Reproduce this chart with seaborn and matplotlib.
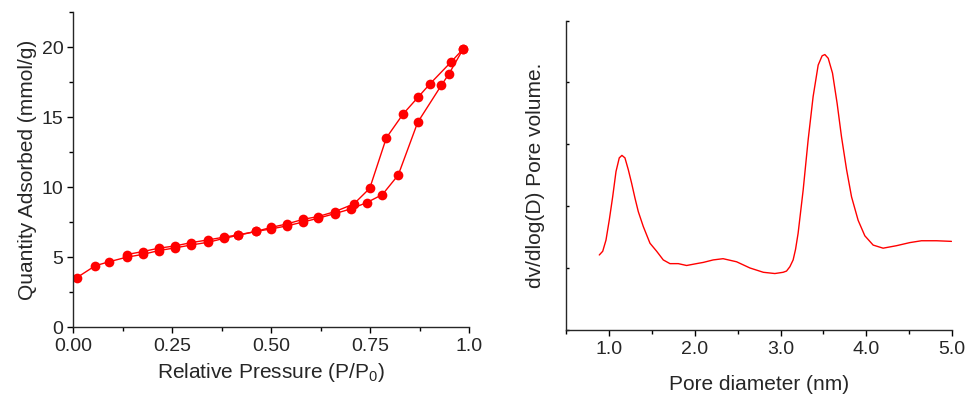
import numpy as np
import pandas as pd
import matplotlib.pyplot as plt
import seaborn as sns

sns.set_style("ticks")
plt.rcParams['font.family'] = ['Liberation Sans', 'DejaVu Sans']

# N2 isotherm, adsorption branch
ads_p = [0.010, 0.056, 0.090, 0.135, 0.177, 0.217, 0.258, 0.299, 0.341, 0.380,
         0.417, 0.461, 0.501, 0.540, 0.581, 0.619, 0.661, 0.701, 0.741, 0.781,
         0.821, 0.870, 0.930, 0.949, 0.985]
ads_q = [3.54, 4.38, 4.66, 4.99, 5.20, 5.47, 5.66, 5.87, 6.06, 6.33,
         6.56, 6.83, 7.02, 7.23, 7.51, 7.78, 8.11, 8.44, 8.89, 9.47,
         10.87, 14.63, 17.29, 18.10, 19.88]
# desorption branch
des_p = [0.985, 0.953, 0.901, 0.871, 0.833, 0.791, 0.749, 0.709, 0.661, 0.619,
         0.581, 0.540, 0.501, 0.461, 0.417, 0.380, 0.341, 0.299, 0.258, 0.217,
         0.177, 0.135]
des_q = [19.88, 18.91, 17.38, 16.43, 15.22, 13.53, 9.92, 8.80, 8.25, 7.90,
         7.70, 7.37, 7.13, 6.83, 6.59, 6.42, 6.23, 6.04, 5.80, 5.64,
         5.40, 5.18]

# pore size distribution
pore_d = [0.887, 0.927, 0.965, 1.004, 1.043, 1.082, 1.12, 1.151, 1.186, 1.225,
          1.264, 1.303, 1.342, 1.40, 1.478, 1.556, 1.633, 1.711, 1.808, 1.905,
          2.02, 2.10, 2.215, 2.33, 2.488, 2.643, 2.80, 2.934, 3.03, 3.07,
          3.109, 3.147, 3.175, 3.205, 3.264, 3.322, 3.38, 3.439, 3.485, 3.517,
          3.556, 3.606, 3.66, 3.711, 3.77, 3.828, 3.905, 3.983, 4.08, 4.196,
          4.352, 4.507, 4.643, 4.818, 4.993]
pore_v = [1.21, 1.27, 1.45, 1.78, 2.15, 2.56, 2.78, 2.82, 2.78, 2.59,
          2.37, 2.13, 1.91, 1.67, 1.40, 1.27, 1.13, 1.07, 1.07, 1.04,
          1.07, 1.09, 1.13, 1.15, 1.10, 1.00, 0.93, 0.91, 0.93, 0.95,
          1.02, 1.13, 1.30, 1.56, 2.26, 3.07, 3.77, 4.28, 4.43, 4.45,
          4.39, 4.15, 3.66, 3.12, 2.59, 2.15, 1.77, 1.52, 1.37, 1.32,
          1.36, 1.41, 1.44, 1.44, 1.43]

iso = pd.concat([
    pd.DataFrame({'p': ads_p, 'q': ads_q, 'branch': 'ads'}),
    pd.DataFrame({'p': des_p, 'q': des_q, 'branch': 'des'}),
])
psd = pd.DataFrame({'d': pore_d, 'v': pore_v})

RED = '#ff0000'
LABEL_FS = 15
TICK_FS = 14
fig = plt.figure(figsize=(9.71, 3.95), dpi=100)
ax1 = fig.add_axes([0.0752, 0.172, 0.408, 0.797])
ax2 = fig.add_axes([0.583, 0.165, 0.3975, 0.783])

# isotherm
sns.lineplot(data=iso, x='p', y='q', hue='branch', palette=[RED, RED],
             sort=False, estimator=None, marker='o', markersize=7,
             markeredgewidth=0, linewidth=1.0, legend=False, ax=ax1)
ax1.set_xlim(0, 1.0)
ax1.set_ylim(0, 22.5)
ax1.set_xticks([0, 0.25, 0.5, 0.75, 1.0])
ax1.set_xticklabels(['0.00', '0.25', '0.50', '0.75', '1.0'])
ax1.set_xticks([0.125, 0.375, 0.625, 0.875], minor=True)
ax1.set_yticks([0, 5, 10, 15, 20])
ax1.set_yticks([2.5, 7.5, 12.5, 17.5, 22.5], minor=True)
ax1.set_xlabel(r'Relative Pressure (P/P$_\mathregular{0}$)', fontsize=LABEL_FS, labelpad=4)
ax1.set_ylabel('Quantity Adsorbed (mmol/g)', fontsize=LABEL_FS, labelpad=3)

# pore size distribution
sns.lineplot(data=psd, x='d', y='v', color=RED, sort=False, estimator=None,
             linewidth=1.0, ax=ax2)
ax2.lines[0].set_solid_joinstyle('round')
ax2.set_xlim(0.5, 5.0)
ax2.set_ylim(0, 5)
ax2.set_xticks([1, 2, 3, 4, 5])
ax2.set_xticklabels(['1.0', '2.0', '3.0', '4.0', '5.0'])
ax2.set_xticks([0.5, 1.5, 2.5, 3.5, 4.5], minor=True)
ax2.set_yticks([0, 1, 2, 3, 4, 5])
ax2.set_yticklabels([])
ax2.set_xlabel('Pore diameter (nm)', fontsize=LABEL_FS, labelpad=12)
ax2.set_ylabel('dv/dlog(D) Pore volume.', fontsize=LABEL_FS, labelpad=13)

for ax in (ax1, ax2):
    sns.despine(ax=ax)
    ax.spines['left'].set_linewidth(1.0)
    ax.spines['bottom'].set_linewidth(1.0)
    ax.tick_params(which='major', length=4, width=1, labelsize=TICK_FS, pad=2, color='black')
    ax.tick_params(which='minor', length=3, width=1, color='black')
ax2.tick_params(axis='y', which='major', direction='in', length=2)
ax1.tick_params(axis='x', pad=4)
ax1.tick_params(axis='y', pad=3)
ax2.tick_params(axis='x', pad=4)

fig.savefig('out.png', dpi=100)
